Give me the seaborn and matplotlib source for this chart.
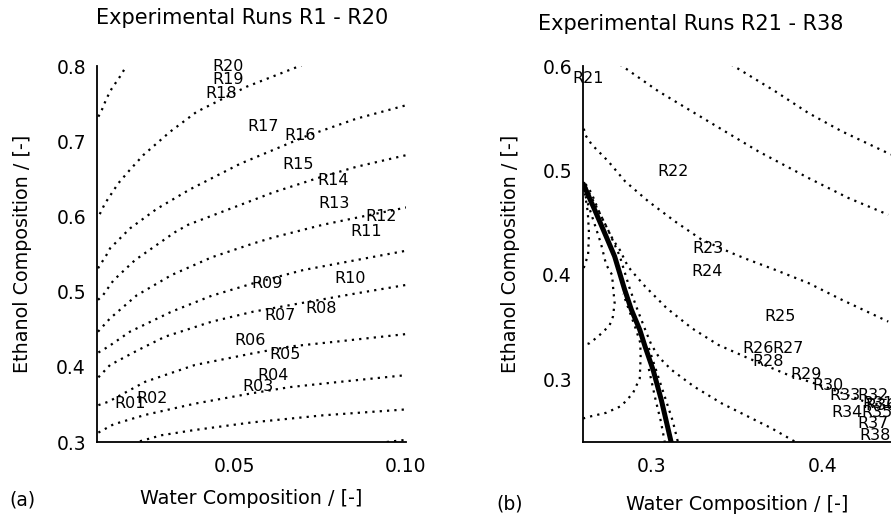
import numpy as np
import pandas as pd
import matplotlib
matplotlib.use("Agg")
import matplotlib.pyplot as plt
import seaborn as sns

sns.set_style("white")
plt.rcParams['font.family'] = ['DejaVu Sans']
plt.rcParams['text.color'] = 'black'
plt.rcParams['axes.labelcolor'] = 'black'
plt.rcParams['xtick.color'] = 'black'
plt.rcParams['ytick.color'] = 'black'

# ---------------- data: panel (a) ----------------
a_A_x = [0.0104, 0.0114, 0.0128, 0.0143, 0.0167, 0.0187]
a_A_y = [0.7326, 0.7415, 0.757, 0.770, 0.786, 0.801]
a_B_x = [0.0108, 0.0123, 0.0162, 0.0196, 0.0235, 0.0313, 0.039, 0.0449, 0.0536, 0.0696]
a_B_y = [0.603, 0.617, 0.644, 0.662, 0.6816, 0.7126, 0.739, 0.7525, 0.7725, 0.801]
a_C_x = [0.0103, 0.0128, 0.0138, 0.0196, 0.0274, 0.0371, 0.0517, 0.0711, 0.0856, 0.1002]
a_C_y = [0.531, 0.549, 0.5575, 0.584, 0.610, 0.636, 0.670, 0.707, 0.730, 0.748]
a_D_x = [0.0103, 0.0118, 0.0148, 0.0211, 0.0327, 0.0366, 0.0487, 0.0614, 0.075, 0.0856, 0.1002]
a_D_y = [0.489, 0.4955, 0.515, 0.542, 0.579, 0.589, 0.610, 0.632, 0.652, 0.666, 0.6816]
a_E_x = [0.0103, 0.0138, 0.0215, 0.0317, 0.0434, 0.0555, 0.0613, 0.0759, 0.0885, 0.1002]
a_E_y = [0.4467, 0.4644, 0.4948, 0.522, 0.5456, 0.564, 0.572, 0.589, 0.601, 0.612]
a_F_x = [0.0104, 0.0133, 0.0196, 0.0317, 0.0434, 0.0555, 0.0701, 0.0856, 0.1002]
a_F_y = [0.419, 0.4268, 0.4467, 0.4733, 0.4945, 0.511, 0.5287, 0.542, 0.5545]
a_G_x = [0.0104, 0.0138, 0.022, 0.0298, 0.0434, 0.0555, 0.0711, 0.0856, 0.1002]
a_G_y = [0.386, 0.4024, 0.4223, 0.44, 0.46, 0.4733, 0.486, 0.4977, 0.509]
a_H_x = [0.0104, 0.0133, 0.024, 0.0385, 0.0555, 0.0662, 0.0808, 0.1002]
a_H_y = [0.349, 0.3535, 0.38, 0.4024, 0.418, 0.427, 0.434, 0.4436]
a_I_x = [0.0104, 0.0148, 0.024, 0.0385, 0.055, 0.0662, 0.0808, 0.1002]
a_I_y = [0.3125, 0.3235, 0.336, 0.351, 0.3647, 0.373, 0.380, 0.389]
a_J_x = [0.0225, 0.0288, 0.0385, 0.055, 0.0759, 0.1002]
a_J_y = [0.301, 0.309, 0.316, 0.326, 0.3355, 0.3434]
a_K_x = [0.0944, 0.1002]
a_K_y = [0.300, 0.303]

a_labels = ["R01", "R02", "R03", "R04", "R05", "R06", "R07", "R08", "R09", "R10",
            "R11", "R12", "R13", "R14", "R15", "R16", "R17", "R18", "R19", "R20"]
a_lab_x = [0.0196, 0.0259, 0.057, 0.0614, 0.0648, 0.0546, 0.0633, 0.0754, 0.0594, 0.0837,
           0.0885, 0.0929, 0.079, 0.0788, 0.0686, 0.0691, 0.0585, 0.0461, 0.0482, 0.0482]
a_lab_y = [0.3514, 0.3572, 0.3735, 0.389, 0.4157, 0.4356, 0.4676, 0.4778, 0.511, 0.5177,
           0.5797, 0.5996, 0.6174, 0.6484, 0.6684, 0.708, 0.7193, 0.7637, 0.7827, 0.800]

# ---------------- data: panel (b) ----------------
b_T_x = [0.2602, 0.2668, 0.2727, 0.2785, 0.2844, 0.2883, 0.2932, 0.2963, 0.301, 0.3058, 0.3117]
b_T_y = [0.487, 0.4624, 0.44, 0.4177, 0.3857, 0.3666, 0.3474, 0.3314, 0.309, 0.2803, 0.2388]
b_P1_x = [0.3466, 0.3723, 0.3918, 0.4113, 0.4401]
b_P1_y = [0.6015, 0.5759, 0.555, 0.5375, 0.5152]
b_P2_x = [0.2816, 0.304, 0.3333, 0.3625, 0.3918, 0.4151, 0.4385]
b_P2_y = [0.6015, 0.5759, 0.547, 0.5183, 0.4928, 0.4737, 0.4576]
b_P3_x = [0.2605, 0.2612, 0.2651, 0.2748, 0.2846, 0.2982, 0.3138, 0.3294, 0.347, 0.3567,
          0.3723, 0.3918, 0.4113, 0.4385]
b_P3_y = [0.540, 0.5343, 0.5248, 0.5087, 0.4896, 0.4704, 0.4512, 0.4337, 0.4209, 0.4145,
          0.4049, 0.3922, 0.3762, 0.3553]
b_P4_x = [0.2615, 0.2649, 0.2697, 0.2775, 0.2815, 0.2863, 0.2912, 0.2963, 0.3002, 0.3089,
          0.3236, 0.3391, 0.3567, 0.38, 0.4015, 0.4249, 0.4401]
b_P4_y = [0.487, 0.4785, 0.4593, 0.4337, 0.424, 0.408, 0.3985, 0.389, 0.3826, 0.3682,
          0.349, 0.333, 0.3202, 0.3042, 0.293, 0.2786, 0.2738]
b_P5_x = [0.2615, 0.2695, 0.2755, 0.2815, 0.2875, 0.292, 0.2965, 0.300, 0.3045, 0.3118,
          0.325, 0.3411, 0.3703, 0.384]
b_P5_y = [0.485, 0.46, 0.44, 0.418, 0.386, 0.366, 0.347, 0.333, 0.321, 0.309,
          0.293, 0.277, 0.2531, 0.2403]
b_Q1_x = [0.2985, 0.3035, 0.3085, 0.3125, 0.3155]
b_Q1_y = [0.330, 0.305, 0.280, 0.260, 0.240]
b_Q2_x = [0.2602, 0.2625, 0.2665, 0.2705, 0.2735, 0.277, 0.2777, 0.2785, 0.2775, 0.2756,
          0.2727, 0.2688, 0.2639, 0.2600]
b_Q2_y = [0.482, 0.470, 0.450, 0.430, 0.410, 0.400, 0.386, 0.373, 0.360, 0.352,
          0.347, 0.341, 0.3346, 0.3325]
b_Q3_x = [0.2605, 0.2628, 0.2635, 0.263, 0.2612, 0.2600]
b_Q3_y = [0.485, 0.460, 0.440, 0.420, 0.410, 0.405]
b_Q4_x = [0.2600, 0.2639, 0.2736, 0.2824, 0.2892, 0.2932, 0.2937, 0.2935, 0.2905, 0.2870, 0.2835]
b_Q4_y = [0.2625, 0.2643, 0.268, 0.2745, 0.2867, 0.301, 0.3218, 0.335, 0.350, 0.366, 0.382]
b_Q5_x = [0.2985, 0.3025, 0.3055, 0.3078]
b_Q5_y = [0.310, 0.280, 0.260, 0.240]

b_labels = ["R21", "R22", "R23", "R24", "R25", "R26", "R27", "R28", "R29", "R30",
            "R31", "R32", "R33", "R34", "R35", "R36", "R37", "R38"]
b_lab_x = [0.2631, 0.3128, 0.3333, 0.3323, 0.3752, 0.3621, 0.380, 0.3684, 0.3904, 0.4035,
           0.4327, 0.4298, 0.4132, 0.4142, 0.4317, 0.4340, 0.4298, 0.4307]
b_lab_y = [0.588, 0.4992, 0.4257, 0.4033, 0.3602, 0.3298, 0.3298, 0.317, 0.3042, 0.2937,
           0.2771, 0.2841, 0.285, 0.2681, 0.2681, 0.2745, 0.2573, 0.2467]

# ---------------- figure ----------------
W, H = 891, 519
fig = plt.figure(figsize=(W / 100, H / 100), dpi=100)
ax1 = fig.add_axes([97 / W, 77 / H, 309 / W, 376 / H])
ax2 = fig.add_axes([583 / W, 77 / H, 342 / W, 376 / H])

DOT = (0, (1, 2.3))


def curve(ax, xs, ys, thick=False):
    df = pd.DataFrame({"x": xs, "y": ys})
    if thick:
        sns.lineplot(data=df, x="x", y="y", ax=ax, sort=False, estimator=None,
                     color="black", linewidth=3.6)
    else:
        sns.lineplot(data=df, x="x", y="y", ax=ax, sort=False, estimator=None,
                     color="black", linewidth=1.6, linestyle=DOT)


for xs, ys in [(a_A_x, a_A_y), (a_B_x, a_B_y), (a_C_x, a_C_y), (a_D_x, a_D_y),
               (a_E_x, a_E_y), (a_F_x, a_F_y), (a_G_x, a_G_y), (a_H_x, a_H_y),
               (a_I_x, a_I_y), (a_J_x, a_J_y), (a_K_x, a_K_y)]:
    curve(ax1, xs, ys)

for xs, ys in [(b_P1_x, b_P1_y), (b_P2_x, b_P2_y), (b_P3_x, b_P3_y), (b_P4_x, b_P4_y),
               (b_P5_x, b_P5_y), (b_Q1_x, b_Q1_y), (b_Q2_x, b_Q2_y), (b_Q3_x, b_Q3_y),
               (b_Q4_x, b_Q4_y), (b_Q5_x, b_Q5_y)]:
    curve(ax2, xs, ys)
curve(ax2, b_T_x, b_T_y, thick=True)

for t, x, y in zip(a_labels, a_lab_x, a_lab_y):
    ax1.text(x, y, t, ha="center", va="center", fontsize=11.5, color="black")
for t, x, y in zip(b_labels, b_lab_x, b_lab_y):
    ax2.text(x, y, t, ha="center", va="center", fontsize=11.5, color="black")

# axes limits and ticks
ax1.set_xlim(0.01, 0.10)
ax1.set_ylim(0.3, 0.8)
ax1.set_xticks([0.05, 0.10])
ax1.set_xticklabels(["0.05", "0.10"])
ax1.set_xticks(np.arange(0.01, 0.1001, 0.01), minor=True)
ax1.set_yticks([0.3, 0.4, 0.5, 0.6, 0.7, 0.8])
ax1.set_yticklabels(["0.3", "0.4", "0.5", "0.6", "0.7", "0.8"])
ax1.set_yticks(np.arange(0.3, 0.8001, 0.02), minor=True)

ax2.set_xlim(0.26, 0.46)
ax2.set_ylim(0.24, 0.6)
ax2.set_xticks([0.3, 0.4])
ax2.set_xticklabels(["0.3", "0.4"])
ax2.set_xticks(np.arange(0.26, 0.4601, 0.02), minor=True)
ax2.set_yticks([0.3, 0.4, 0.5, 0.6])
ax2.set_yticklabels(["0.3", "0.4", "0.5", "0.6"])
ax2.set_yticks(np.arange(0.24, 0.6001, 0.02), minor=True)

for ax in (ax1, ax2):
    sns.despine(ax=ax)
    for s in ("left", "bottom"):
        ax.spines[s].set_linewidth(1.3)
        ax.spines[s].set_color("black")
    ax.tick_params(which="both", direction="in", top=False, right=False,
                   colors="black", labelcolor="black", width=1.1, labelsize=13.5)
    ax.tick_params(which="major", length=7)
    ax.tick_params(which="minor", length=5)
    ax.tick_params(axis="x", which="both", pad=11)
    ax.tick_params(axis="y", which="both", pad=8)
    ax.set_xlabel("Water Composition / [-]", fontsize=13.8, color="black")
    ax.set_ylabel("Ethanol Composition / [-]", fontsize=13.8, color="black")

# label positions (axes fraction)
ax1.xaxis.set_label_coords((251 - 97) / 309, (442 - 498.5) / 376)
ax1.xaxis.label.set_va("center")
ax1.yaxis.set_label_coords((22.5 - 97) / 309, (442 - 254) / 376)
ax1.yaxis.label.set_va("center")
ax2.xaxis.set_label_coords((737 - 583) / 342, (442 - 504) / 376)
ax2.xaxis.label.set_va("center")
ax2.yaxis.set_label_coords((510 - 583) / 342, (442 - 254) / 376)
ax2.yaxis.label.set_va("center")

fig.text(242.5 / W, 1 - 18 / H, "Experimental Runs R1 - R20", ha="center", va="center",
         fontsize=15, color="black")
fig.text(691 / W, 1 - 23.5 / H, "Experimental Runs R21 - R38", ha="center", va="center",
         fontsize=15, color="black")
fig.text(22 / W, 1 - 500 / H, "(a)", ha="center", va="center", fontsize=13.5, color="black")
fig.text(510 / W, 1 - 504 / H, "(b)", ha="center", va="center", fontsize=13.5, color="black")

fig.savefig("out.png", dpi=100)
